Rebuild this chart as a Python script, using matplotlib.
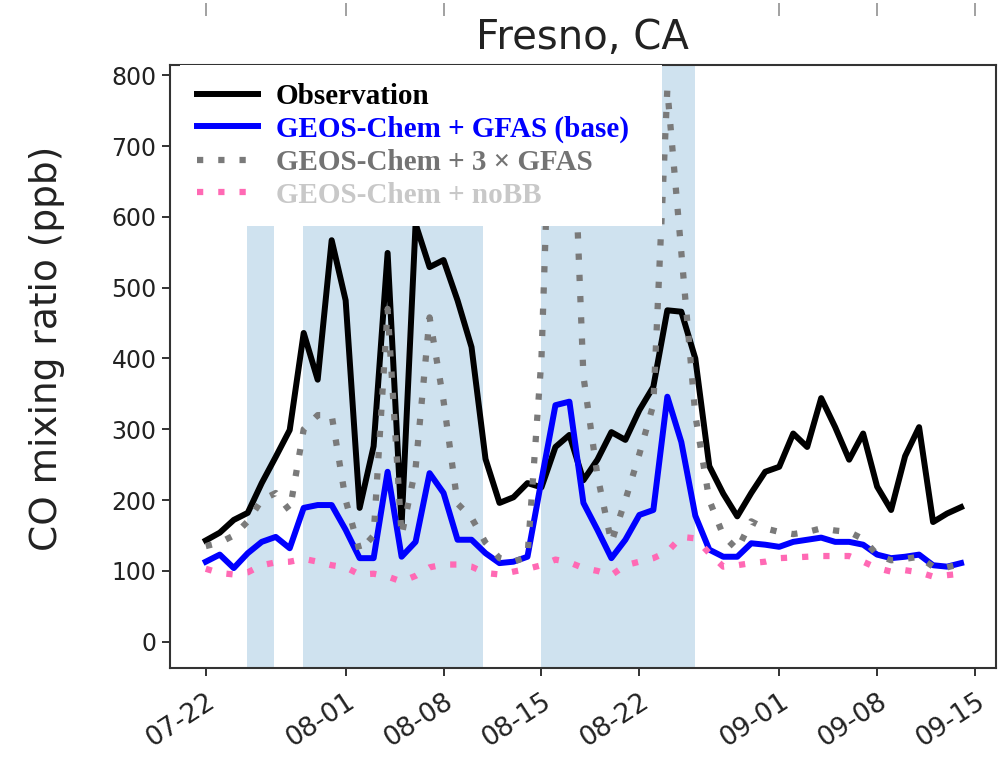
import datetime as dt
import matplotlib
matplotlib.use("Agg")
import matplotlib.pyplot as plt
import matplotlib.dates as mdates
from matplotlib.lines import Line2D

# daily values from 07-22 to 09-14
start = dt.datetime(2018, 7, 22)
obs = [143, 154, 172, 182, 224, 261, 299, 436, 370, 567, 482, 189, 276, 549, 165,
       590, 529, 539, 482, 416, 258, 196, 204, 224, 218, 275, 292, 228, 257, 296,
       285, 327, 360, 468, 466, 400, 248, 209, 177, 210, 240, 247, 294, 275, 344,
       303, 257, 294, 219, 186, 262, 303, 169, 181, 190]
gfas = [113, 123, 104, 125, 141, 148, 132, 189, 193, 193, 158, 118, 118, 240, 120,
        141, 238, 210, 144, 144, 125, 111, 113, 120, 228, 334, 339, 196, 158, 118,
        144, 179, 186, 346, 282, 178, 130, 120, 120, 139, 137, 134, 141, 144, 147,
        141, 141, 137, 123, 118, 120, 123, 108, 106, 111]
gfas3 = [135, 140, 150, 170, 200, 210, 185, 300, 320, 320, 200, 128, 150, 470, 150,
         245, 458, 340, 195, 175, 140, 118, 113, 120, 400, 1000, 880, 375, 235, 140,
         200, 265, 335, 780, 550, 320, 200, 150, 130, 170, 160, 155, 152, 155, 160,
         157, 155, 145, 123, 115, 117, 120, 106, 105, 110]
nobb = [103, 97, 95, 98, 108, 112, 113, 117, 113, 108, 105, 95, 96, 92, 85,
        93, 105, 109, 109, 106, 97, 95, 99, 103, 108, 116, 112, 104, 100, 94,
        108, 113, 118, 127, 148, 146, 125, 106, 108, 111, 113, 118, 119, 120, 121,
        121, 121, 113, 104, 99, 101, 98, 92, 94, 96]
dates = [start + dt.timedelta(days=i) for i in range(len(obs))]

# smoke-affected periods (shaded)
span_start = ["2018-07-24 22:00", "2018-07-28 22:00", "2018-08-15 00:00"]
span_end = ["2018-07-26 21:00", "2018-08-10 19:00", "2018-08-26 00:00"]

tick_dates = ["2018-07-22", "2018-08-01", "2018-08-08", "2018-08-15",
              "2018-08-22", "2018-09-01", "2018-09-08", "2018-09-15"]
top_tick_dates = ["2018-07-22", "2018-08-01", "2018-08-08",
                  "2018-09-01", "2018-09-08", "2018-09-15"]

labels = ["Observation", "GEOS-Chem + GFAS (base)",
          "GEOS-Chem + 3 \u00d7 GFAS", "GEOS-Chem + noBB"]
label_colors = ["black", "#0000ff", "#737373", "#c8c8c8"]

fmt = "%Y-%m-%d %H:%M"
to_dt = lambda s: dt.datetime.strptime(s if " " in s else s + " 00:00", fmt)

fig = plt.figure(figsize=(9.98, 7.59), dpi=100)
ax = fig.add_axes([0.170, 0.120, 0.828, 0.794])

for s, e in zip(span_start, span_end):
    ax.axvspan(to_dt(s), to_dt(e), color="#1f77b4", alpha=0.21, lw=0)

dot = (0, (1, 2.4))
ax.plot(dates, obs, color="black", lw=4.3)
ax.plot(dates, gfas, color="#0000ff", lw=4.3)
ax.plot(dates, gfas3, color="#7a7a7a", lw=4.5, linestyle=dot)
ax.plot(dates, nobb, color="#ff69b4", lw=4.5, linestyle=dot)

ax.set_xlim(to_dt("2018-07-19 10:00"), to_dt("2018-09-16 12:00"))
ax.set_ylim(-37, 814)
ax.set_yticks(range(0, 801, 100))
ax.set_xticks([to_dt(d) for d in tick_dates])
ax.xaxis.set_major_formatter(mdates.DateFormatter("%m-%d"))
ax.tick_params(axis="both", length=6, width=1.3, colors="#222222")
ax.tick_params(axis="y", labelsize=17)
ax.tick_params(axis="x", labelsize=19, pad=9)
plt.setp(ax.get_xticklabels(), rotation=33, ha="right", rotation_mode="anchor")
for sp in ax.spines.values():
    sp.set_color("#333333")
    sp.set_linewidth(1.5)

ax.set_ylabel("CO mixing ratio (ppb)", fontsize=27, color="#222222")
ax.yaxis.set_label_coords(-0.127, 0.53)
ax.set_title("Fresno, CA", fontsize=29, color="#222222", pad=12)

handles = [Line2D([], [], color="black", lw=4.3),
           Line2D([], [], color="#0000ff", lw=4.3),
           Line2D([], [], color="#7a7a7a", lw=4.5, linestyle=dot),
           Line2D([], [], color="#ff69b4", lw=4.5, linestyle=dot)]
leg = ax.legend(handles, labels, loc="upper left",
                bbox_to_anchor=(0.012, 0.0, 0.584, 1.0), mode="expand",
                borderaxespad=0, prop=dict(family="Liberation Serif",
                                           weight="bold", size=21),
                labelcolor=label_colors, handlelength=2.1, handletextpad=0.6,
                labelspacing=0.2, borderpad=0.6, fancybox=False,
                framealpha=1, facecolor="white", edgecolor="none")

# tick marks of the panel above (cut off at top of the image)
top = fig.add_axes([0.170, 1 - 3 / 759, 0.828, 0.01])
top.set_xlim(ax.get_xlim())
top.set_xticks([to_dt(d) for d in top_tick_dates])
top.set_xticklabels([])
top.set_yticks([])
top.tick_params(axis="x", length=9, width=1.1, colors="#888888")
for sp in top.spines.values():
    sp.set_visible(False)

fig.savefig("out.png", dpi=100)
